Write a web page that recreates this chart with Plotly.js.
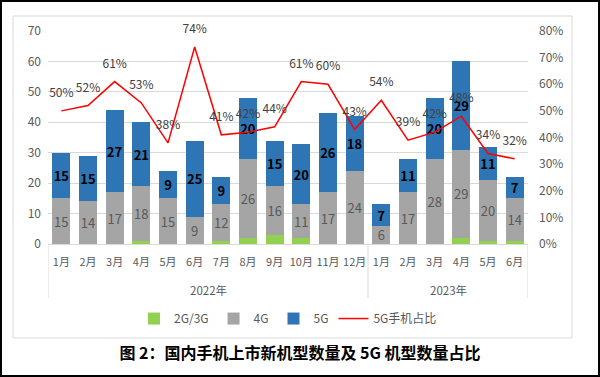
<!DOCTYPE html>
<html><head><meta charset="utf-8">
<script src="https://cdn.plot.ly/plotly-3.0.1.min.js"></script>
<style>
html,body{margin:0;padding:0;background:#fff;}
#wrap{position:relative;width:600px;height:377px;}
#chart{width:600px;height:377px;}
#frame{position:absolute;left:0;top:0;width:600px;height:377px;box-sizing:border-box;border:2px solid #000;pointer-events:none;}
</style></head>
<body><div id="wrap"><div id="chart"></div><div id="frame"></div></div>
<script>
const years = ["2022年","2022年","2022年","2022年","2022年","2022年","2022年","2022年","2022年","2022年","2022年","2022年","2023年","2023年","2023年","2023年","2023年","2023年"];
const months = ["1月","2月","3月","4月","5月","6月","7月","8月","9月","10月","11月","12月","1月","2月","3月","4月","5月","6月"];
const g23 = [0,0,0,1,0,0,1,2,3,2,0,0,0,0,0,2,1,1];
const g4 = [15,14,17,18,15,9,12,26,16,11,17,24,6,17,28,29,20,14];
const g5 = [15,15,27,21,9,25,9,20,15,20,26,18,7,11,20,29,11,7];
const share5g = [0.50,0.52,0.61,0.53,0.38,0.74,0.41,0.42,0.44,0.61,0.60,0.43,0.54,0.39,0.42,0.48,0.34,0.32];

const font = "Noto Sans CJK SC, Noto Sans, sans-serif";
const x = months.map((_, i) => i);

// year groups derived from the years array
const groups = [];
years.forEach((y, i) => {
  const g = groups[groups.length - 1];
  if (g && g.name === y) g.end = i; else groups.push({name: y, start: i, end: i});
});
const yDiv = (244 - 298) / 213;
const shapes = [
  {type:'rect', xref:'paper', yref:'paper', x0:(13-48)/480, x1:(572-48)/480,
   y0:(244-338)/213, y1:(244-16)/213, line:{color:'#D9D9D9', width:1}, layer:'below'}
];
const bounds = [groups[0].start - 0.5].concat(groups.map(g => g.end + 0.5));
bounds.forEach(b => shapes.push({type:'line', xref:'x', yref:'paper', x0:b, x1:b, y0:0, y1:yDiv,
  line:{color:'#D9D9D9', width:1}}));
const annotations = groups.map(g => ({
  xref:'x', yref:'paper', x:(g.start + g.end) / 2, y:(244 - 290) / 213, yanchor:'middle',
  text:g.name, showarrow:false, font:{family:font, size:11.5, color:'#595959'}
}));

const traces = [
  {type:'bar', name:'2G/3G', x:x, y:g23, marker:{color:'#92D050'}},
  {type:'bar', name:'4G', x:x, y:g4, marker:{color:'#A5A5A5'},
   text:g4.map(String), textposition:'inside', insidetextanchor:'middle', textangle:0,
   textfont:{family:font, size:13, color:'#595959'}},
  {type:'bar', name:'5G', x:x, y:g5, marker:{color:'#2E75B6'},
   text:g5.map(v=>'<b>'+v+'</b>'), textposition:'inside', insidetextanchor:'middle', textangle:0,
   textfont:{family:font, size:13, color:'#000'}},
  {type:'scatter', mode:'lines+markers+text', name:'5G手机占比', x:x, y:share5g, yaxis:'y2',
   line:{color:'#FF0000', width:1.5}, marker:{size:16, color:'rgba(0,0,0,0)'},
   text:share5g.map(v=>Math.round(v*100)+'%'), textposition:'top center',
   textfont:{family:font, size:12, color:'#404040'}, cliponaxis:false}
];

const layout = {
  width:600, height:377,
  margin:{l:48, r:72, t:31, b:133},
  paper_bgcolor:'#fff', plot_bgcolor:'#fff',
  barmode:'stack', bargap:0.32,
  uniformtext:{mode:'show', minsize:13},
  font:{family:font, color:'#595959', size:12},
  showlegend:true,
  legend:{orientation:'h', x:0.5, xanchor:'center', y:-0.35, yanchor:'middle',
    font:{family:font, size:12, color:'#595959'}, traceorder:'normal', itemwidth:30},
  title:{text:'<b>图 2：国内手机上市新机型数量及 5G 机型数量占比</b>', x:0.5, xanchor:'center',
    y:1-353/377, yref:'container', yanchor:'middle',
    font:{family:font, size:16, color:'#000'}},
  xaxis:{range:[-0.5, months.length - 0.5], tickmode:'array', tickvals:x, ticktext:months,
    showline:true, linecolor:'#D9D9D9', linewidth:1, showgrid:false, zeroline:false,
    tickangle:0, ticks:'', ticklabelstandoff:8,
    tickfont:{family:font, size:11, color:'#595959'}},
  yaxis:{range:[0,70], dtick:10, showgrid:true, gridcolor:'#D9D9D9', zeroline:false,
    tickfont:{family:font, size:12, color:'#595959'}, ticklabelstandoff:6},
  yaxis2:{range:[0,0.8], dtick:0.1, tickformat:'.0%', overlaying:'y', side:'right',
    showgrid:false, zeroline:false, ticklabelstandoff:10,
    tickfont:{family:font, size:12, color:'#595959'}},
  shapes:shapes,
  annotations:annotations
};
Plotly.newPlot('chart', traces, layout, {staticPlot:true, displayModeBar:false});
</script></body></html>
